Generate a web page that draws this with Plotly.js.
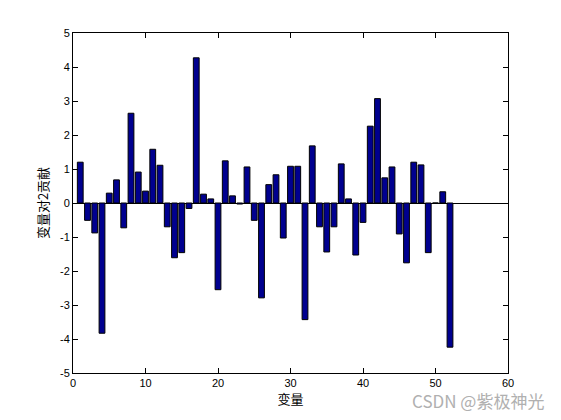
<!DOCTYPE html>
<html>
<head>
<meta charset="utf-8">
<script src="https://cdn.plot.ly/plotly-3.0.1.min.js"></script>
<style>html,body{margin:0;padding:0;background:#fff;}#chart{width:561px;height:420px;}</style>
</head>
<body>
<div id="chart"></div>
<script>
const variables = Array.from({length: 52}, (_, i) => i + 1);
const contributions = [
  1.20, -0.51, -0.88, -3.83, 0.29, 0.68, -0.73, 2.64, 0.91, 0.35,
  1.58, 1.11, -0.70, -1.61, -1.46, -0.16, 4.27, 0.26, 0.12, -2.55,
  1.24, 0.21, -0.03, 1.06, -0.51, -2.79, 0.54, 0.83, -1.03, 1.08,
  1.08, -3.43, 1.68, -0.70, -1.44, -0.70, 1.15, 0.12, -1.53, -0.57,
  2.26, 3.07, 0.74, 1.06, -0.91, -1.76, 1.20, 1.12, -1.46, 0.00,
  0.33, -4.24
];
const xTicks = [0, 10, 20, 30, 40, 50, 60];
const yTicks = [-5, -4, -3, -2, -1, 0, 1, 2, 3, 4, 5];

const font = {family: 'Liberation Sans, Arial, sans-serif', size: 11, color: '#000'};
const data = [{
  type: 'bar', x: variables, y: contributions, width: 0.8,
  marker: {color: '#00008f', line: {color: '#000', width: 1}},
  hoverinfo: 'x+y'
}];
const layout = {
  width: 561, height: 420,
  margin: {l: 73, r: 53, t: 33, b: 47},
  paper_bgcolor: '#fff', plot_bgcolor: '#fff',
  showlegend: false, font: font, bargap: 0,
  xaxis: {range: [0, 60], tickvals: xTicks, ticktext: xTicks.map(String), ticks: 'inside', ticklen: 5,
    tickcolor: '#000', showline: true, linecolor: '#000', linewidth: 1, mirror: 'ticks',
    showgrid: false, zeroline: false, tickfont: font,
    title: {text: '变量', font: {family: 'Noto Sans CJK SC, sans-serif', size: 13, color: '#000'}, standoff: 4}},
  yaxis: {range: [-5, 5], tickvals: yTicks, ticktext: yTicks.map(String), ticks: 'inside', ticklen: 5,
    tickcolor: '#000', showline: true, linecolor: '#000', linewidth: 1, mirror: 'ticks',
    showgrid: false, zeroline: true, zerolinecolor: '#000', zerolinewidth: 1, tickfont: font,
    title: {text: '变量对2贡献', font: {family: 'Noto Sans CJK SC, sans-serif', size: 13, color: '#000'}, standoff: 8}},
  annotations: [{
    text: 'CSDN @紫极神光', xref: 'paper', yref: 'paper', x: 1.087, y: -0.082,
    xanchor: 'right', yanchor: 'middle', showarrow: false,
    font: {family: 'Noto Sans CJK SC, sans-serif', size: 17, color: '#b0b0b0'}
  }]
};
Plotly.newPlot('chart', data, layout, {displayModeBar: false, staticPlot: true});
</script>
</body>
</html>
